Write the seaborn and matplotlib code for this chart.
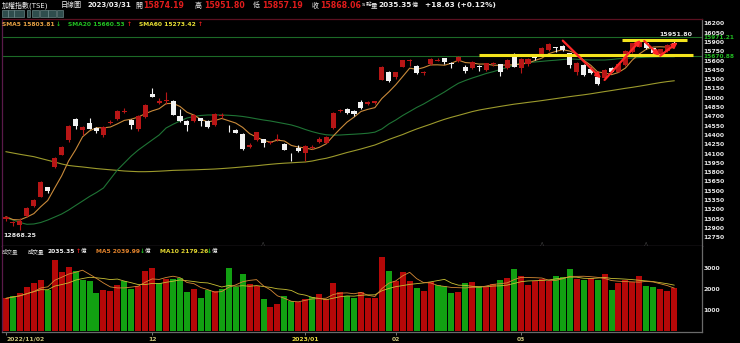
import numpy as np
import pandas as pd
import matplotlib
matplotlib.use("Agg")
import matplotlib.pyplot as plt
import matplotlib.transforms as mtrans
from matplotlib.patches import Rectangle
import seaborn as sns

# ---------------- data ----------------
opens = [13040, 12975, 12948, 13098, 13260, 13405, 13556, 13888, 14082, 14319,
         14652, 14480, 14588, 14517, 14400, 14600, 14652, 14770, 14641, 14496,
         14685, 15060, 14912, 14945, 14953, 14711, 14630, 14620, 14668, 14625,
         14561, 14700, 14550, 14480, 14411, 14201, 14319, 14330, 14270, 14315,
         14254, 14100, 14190, 14110, 14195, 14280, 14275, 14507, 14780, 14824,
         14791, 14931, 14899, 14920, 15290, 15420, 15340, 15500, 15598, 15512,
         15395, 15539, 15600, 15636, 15565, 15592, 15500, 15475, 15515, 15447,
         15548, 15539, 15475, 15661, 15475, 15540, 15650, 15689, 15770, 15815,
         15839, 15716, 15420, 15528, 15458, 15330, 15313, 15475, 15420, 15528,
         15737, 15823, 15877, 15797, 15710, 15753, 15874.19]
highs = [13100, 13020, 13056, 13235, 13370, 13660, 13565, 14040, 14215, 14560,
         14678, 14545, 14668, 14530, 14545, 14641, 14800, 14835, 14655, 14715,
         14895, 15152, 14988, 15088, 14965, 14814, 14640, 14735, 14680, 14637,
         14750, 14759, 14560, 14490, 14425, 14275, 14455, 14340, 14300, 14410,
         14265, 14115, 14237, 14235, 14240, 14360, 14385, 14770, 14818, 14835,
         14800, 14964, 14950, 14955, 15510, 15430, 15420, 15615, 15630, 15525,
         15430, 15635, 15640, 15645, 15571, 15672, 15528, 15585, 15528, 15565,
         15575, 15550, 15620, 15716, 15635, 15640, 15700, 15810, 15880, 15823,
         15850, 15725, 15575, 15540, 15500, 15345, 15460, 15490, 15555, 15770,
         15890, 15940, 15890, 15805, 15755, 15860, 15951.80]
lows = [13020, 12925, 12868.25, 13080, 13245, 13395, 13470, 13875, 14070, 14282,
        14491, 14394, 14490, 14427, 14372, 14577, 14640, 14759, 14501, 14464,
        14675, 15005, 14900, 14899, 14715, 14614, 14469, 14608, 14544, 14510,
        14550, 14668, 14452, 14425, 14160, 14185, 14305, 14201, 14260, 14300,
        14150, 13985, 14130, 13985, 14170, 14270, 14265, 14495, 14765, 14745,
        14705, 14820, 14890, 14900, 15280, 15250, 15297, 15490, 15516, 15380,
        15366, 15525, 15585, 15540, 15475, 15580, 15394, 15465, 15431, 15435,
        15515, 15355, 15465, 15490, 15394, 15515, 15608, 15675, 15760, 15742,
        15760, 15475, 15360, 15355, 15385, 15200, 15300, 15410, 15410, 15515,
        15725, 15810, 15790, 15680, 15665, 15745, 15857.19]
closes = [13082, 12990, 13018, 13218, 13352, 13642, 13492, 14024, 14201, 14549,
          14544, 14533, 14501, 14459, 14533, 14615, 14786, 14780, 14556, 14705,
          14883, 15017, 14955, 14965, 14727, 14630, 14556, 14722, 14620, 14523,
          14738, 14725, 14538, 14437, 14173, 14233, 14443, 14275, 14290, 14340,
          14165, 14085, 14140, 14224, 14210, 14340, 14372, 14759, 14805, 14759,
          14738, 14830, 14935, 14940, 15493, 15265, 15410, 15604, 15612, 15394,
          15410, 15624, 15612, 15581, 15550, 15661, 15431, 15571, 15500, 15555,
          15565, 15420, 15608, 15500, 15624, 15630, 15640, 15797, 15866, 15800,
          15770, 15528, 15560, 15367, 15400, 15225, 15447, 15420, 15544, 15758,
          15877, 15931, 15800, 15720, 15780, 15849.43, 15868.06]
volumes = [1556, 1681, 1795, 2081, 2271, 2429, 1938, 3367, 2795, 3033,
           2857, 2429, 2395, 1824, 1938, 1919, 2190, 2395, 2014, 2157,
           2857, 2986, 2271, 2476, 2460, 2508, 1843, 1986, 1557, 1952,
           1919, 1986, 3015, 2110, 2700, 2252, 2157, 1524, 1157, 1286,
           1667, 1443, 1395, 1510, 1619, 1762, 1524, 2271, 1843, 1675,
           1557, 1843, 1590, 1557, 3540, 2857, 2395, 2795, 2395, 2033,
           1905, 2333, 2190, 2157, 1795, 1843, 2271, 2348, 2157, 2095,
           2238, 2429, 2540, 2938, 2633, 2190, 2395, 2460, 2395, 2619,
           2586, 2952, 2460, 2429, 2508, 2429, 2698, 1952, 2271, 2429,
           2348, 2633, 2150, 2120, 2000, 1919, 2035.35]
ma20_vals = [13066, 13029, 12989, 12960, 12965, 12989, 13029, 13077, 13126, 13190,
             13263, 13335, 13408, 13472, 13545, 13690, 13835, 13948, 14061, 14157,
             14238, 14319, 14399, 14512, 14572, 14625, 14673, 14698, 14714, 14722,
             14722, 14722, 14717, 14710, 14698, 14681, 14660, 14641, 14625, 14604,
             14583, 14561, 14528, 14488, 14453, 14424, 14403, 14396, 14399, 14406,
             14412, 14419, 14428, 14445, 14496, 14577, 14641, 14714, 14778, 14843,
             14899, 14964, 15028, 15093, 15165, 15233, 15278, 15318, 15354, 15391,
             15420, 15455, 15487, 15528, 15555, 15568, 15576, 15587, 15597, 15605,
             15616, 15625, 15620, 15612, 15608, 15608, 15608, 15616, 15628, 15636,
             15641, 15647, 15654, 15657, 15660, 15660, 15660.53]
ma60_vals = [14130, 14109, 14088, 14069, 14050, 14021, 13992, 13964, 13932, 13908,
             13895, 13884, 13871, 13858, 13848, 13838, 13829, 13819, 13813, 13808,
             13808, 13811, 13816, 13822, 13829, 13832, 13835, 13838, 13842, 13846,
             13851, 13858, 13866, 13875, 13885, 13895, 13904, 13916, 13927, 13937,
             13945, 13951, 13958, 13964, 13980, 14004, 14024, 14053, 14085, 14117,
             14145, 14174, 14206, 14238, 14282, 14327, 14367, 14407, 14453, 14496,
             14535, 14573, 14614, 14652, 14685, 14715, 14746, 14777, 14802, 14822,
             14841, 14860, 14878, 14896, 14910, 14925, 14939, 14954, 14970, 14986,
             15002, 15018, 15033, 15047, 15063, 15081, 15099, 15116, 15134, 15152,
             15168, 15186, 15205, 15225, 15244, 15260, 15273.42]
prev_close = 13020
date_ticks = [0, 21, 43, 56, 74]
date_labels = ["2022/11/02", "12", "2023/01", "02", "03"]
price_ticks = list(range(12750, 16201, 150))
vol_ticks = [1000, 2000, 3000]
ref_levels = [15971.21, 15670.88]
yellow_segments = [(68.0, 98.7, 15681), (88.5, 97.9, 15931)]
red_arrows = [((80.0, 15920), (85.5, 15313)),
              ((86.0, 15286), (91.2, 15931)),
              ((91.7, 15915), (93.9, 15677)),
              ((94.0, 15677), (96.5, 15893))]
marker_pos = [37, 77, 92]

# ---------------- styling ----------------
plt.rcParams["font.family"] = ["DejaVu Sans", "Noto Sans CJK TC"]
RED = "#b81616"
WHITE = "#f2f2f2"
VRED = "#b50808"
VGREEN = "#12a012"
W, H = 740, 343

o = np.array(opens); h = np.array(highs); l = np.array(lows); c = np.array(closes)
v = np.array(volumes, dtype=float)
n = len(c)
idx = np.arange(n)
ma5 = pd.Series(c).rolling(5, min_periods=1).mean().values
vma5 = pd.Series(v).rolling(5, min_periods=1).mean().values
vma10 = pd.Series(v).rolling(10, min_periods=1).mean().values
prevs = np.concatenate([[prev_close], c[:-1]])
vol_dir = np.where(c >= prevs, "up", "down")

fig = plt.figure(figsize=(W / 100, H / 100), dpi=100, facecolor="black")
def fx(px): return px / W
def fy(py): return 1 - py / H

ax = fig.add_axes([fx(2), fy(246), fx(700), (246 - 19) / H])
axv = fig.add_axes([fx(2), fy(332), fx(700), (332 - 246) / H])
for a in (ax, axv):
    a.set_facecolor("black")

# reference green lines
for lv in ref_levels:
    ax.axhline(lv, color="#1c6a26", lw=0.8, zorder=1)

# moving averages
sns.lineplot(x=idx, y=ma60_vals, ax=ax, color="#9c9a2c", lw=0.8, zorder=2)
sns.lineplot(x=idx, y=ma20_vals, ax=ax, color="#1f7435", lw=0.8, zorder=2)
sns.lineplot(x=idx, y=ma5, ax=ax, color="#c98a3a", lw=0.8, zorder=2)

# candles
up = c >= o
cols = np.where(up, RED, WHITE)
ax.vlines(idx, l, h, colors=cols, linewidth=0.8, zorder=3)
body_bottom = np.minimum(o, c)
body_h = np.maximum(np.abs(c - o), 14)
ax.bar(idx, body_h, bottom=body_bottom, width=0.72, color=cols, linewidth=0, zorder=4)

# yellow support/resistance lines and red arrows
for x0, x1, yv in yellow_segments:
    ax.hlines(yv, x0, x1, color="#f3e31c", lw=2.2, zorder=5)
for (x0, y0), (x1, y1) in red_arrows:
    ax.annotate("", xy=(x1, y1), xytext=(x0, y0),
                arrowprops=dict(arrowstyle="-|>", color="#ff2626", lw=1.6,
                                mutation_scale=7, shrinkA=0, shrinkB=0), zorder=6)

# min / max labels
imin = int(np.argmin(l)); imax = int(np.argmax(h))
ax.annotate(f"{l[imin]:.2f}", xy=(imin, l[imin]), xytext=(0, -2.5), textcoords="offset points",
            ha="center", va="top", fontsize=4.5, color="#e8e8e8", fontweight="bold")
ax.annotate(f"{h[imax]:.2f}", xy=(imax, h[imax]), xytext=(1.5, 1), textcoords="offset points",
            ha="center", va="bottom", fontsize=4.5, color="#e8e8e8", fontweight="bold")

ax.set_xlim(-0.575, 100)
ax.set_ylim(12610, 16269)
ax.yaxis.tick_right()
ax.set_yticks(price_ticks)
ax.set_yticklabels([str(t) for t in price_ticks])
ax.tick_params(axis="y", length=0, pad=1.2, labelsize=4.4, labelcolor="#e6e6e6")
for lab in ax.get_yticklabels():
    lab.set_fontweight("bold")
ax.set_xticks([])
ax.set_xlabel(""); ax.set_ylabel("")
trans = mtrans.blended_transform_factory(ax.transAxes, ax.transData)
for lv in ref_levels:
    ax.text(1.002, lv, f"{lv:.2f}", transform=trans, color="#22b822", fontsize=4.2,
            va="center", ha="left", fontweight="bold")
for xm in marker_pos:
    ax.text(xm, 12640, "△", color="#8a8a8a", fontsize=4, ha="center", va="center")

ax.spines["top"].set_color("#5a1020")
ax.spines["left"].set_color("#5a1a4a")
ax.spines["right"].set_color("#6a6a6a")
ax.spines["bottom"].set_color("#6a5a6a")
for s in ax.spines.values():
    s.set_linewidth(0.9)

# volume panel
vdf = pd.DataFrame({"idx": idx, "vol": v, "dir": vol_dir})
sns.barplot(data=vdf, x="idx", y="vol", hue="dir", palette={"up": VRED, "down": VGREEN},
            native_scale=True, dodge=False, width=0.86, legend=False, saturation=1,
            errorbar=None, linewidth=0, ax=axv)
sns.lineplot(x=idx, y=vma10, ax=axv, color="#c8c034", lw=0.6, zorder=5)
sns.lineplot(x=idx, y=vma5, ax=axv, color="#d68a36", lw=0.6, zorder=5)
axv.set_xlim(-0.575, 100)
axv.set_ylim(-48, 4050)
axv.yaxis.tick_right()
axv.set_yticks(vol_ticks)
axv.set_yticklabels([str(t) for t in vol_ticks])
axv.tick_params(axis="y", length=0, pad=1.2, labelsize=4.4, labelcolor="#e6e6e6")
for lab in axv.get_yticklabels():
    lab.set_fontweight("bold")
axv.set_xticks(date_ticks)
axv.set_xticklabels(date_labels)
axv.tick_params(axis="x", length=2.5, width=0.6, color="#8a8a8a", pad=1,
                labelsize=4.4, labelcolor="#c9c27a")
xl = axv.get_xticklabels()
xl[0].set_ha("left")
for lab in xl:
    lab.set_fontweight("bold")
xl[2].set_color("#e6d640")
axv.set_xlabel(""); axv.set_ylabel("")
axv.spines["top"].set_visible(False)
axv.spines["left"].set_color("#5a1a4a")
axv.spines["right"].set_color("#6a6a6a")
axv.spines["bottom"].set_color("#6a6a6a")
for s in axv.spines.values():
    s.set_linewidth(0.9)

# ---------------- header texts ----------------
def t(px, py, s, color="#f0f0f0", size=5.6, bold=True):
    fig.text(fx(px), fy(py), s, color=color, fontsize=size, va="center", ha="left",
             fontweight="bold" if bold else "normal")

HRED = "#e01c1c"
t(2, 5, "加權指數(TSE)", size=5.0, bold=False)
t(61, 5, "日線圖", size=5.0, bold=False)
t(87, 5, "2023/03/31", size=5.0)
t(135, 5, "開", size=5.0, bold=False)
t(143, 5, "15874.19", HRED, 5.6)
t(195, 5, "高", size=5.0, bold=False)
t(204, 5, "15951.80", HRED, 5.6)
t(253, 5, "低", size=5.0, bold=False)
t(262, 5, "15857.19", HRED, 5.6)
t(312, 5, "收", size=5.0, bold=False)
t(320, 5, "15868.06", HRED, 5.6)
t(362, 5, "s", size=4.6, bold=False)
t(365.5, 5, "點", size=4.0, bold=False)
t(371, 5, "量", size=4.6, bold=False)
t(378, 5, "2035.35", size=5.3)
t(412, 5, "億", size=4.4, bold=False)
t(425, 5, "+18.63 (+0.12%)", size=5.3)

# small toolbar buttons
for x0, x1 in [(2, 7.5), (8.2, 13.5), (14.2, 24), (26.5, 29.5), (31.5, 39.3),
               (40, 47.7), (48.4, 56), (56.7, 63.3)]:
    fig.patches.append(Rectangle((fx(x0), fy(16.5)), fx(x1 - x0), (6.5) / H,
                                 transform=fig.transFigure, facecolor="#2f4d4d",
                                 edgecolor="#7a9a9a", linewidth=0.4))

t(2, 24, "SMA5 15803.81", "#e8a244", 4.3)
t(56, 24, "↓", "#22c022", 4.3)
t(68, 24, "SMA20 15660.53", "#22c022", 4.3)
t(127, 24, "↑", HRED, 4.3)
t(139, 24, "SMA60 15273.42", "#e8e034", 4.3)
t(198, 24, "↑", HRED, 4.3)

t(2, 251.5, "成交量", "#c8c8c8", 4.0, False)
t(28, 251.5, "成交量", "#f0f0f0", 4.0, False)
t(47, 251.5, "2035.35", "#f0f0f0", 4.3)
t(76, 251.5, "↑", HRED, 4.3)
t(80.5, 251.5, "億", "#f0f0f0", 4.0, False)
t(96, 251.5, "MA5 2039.99", "#e0822c", 4.3)
t(140, 251.5, "↓", "#22c022", 4.3)
t(145, 251.5, "億", "#f0f0f0", 4.0, False)
t(160, 251.5, "MA10 2179.26", "#e2d630", 4.3)
t(207, 251.5, "↓", "#22c022", 4.3)
t(212, 251.5, "億", "#f0f0f0", 4.0, False)

fig.savefig("out.png", dpi=100, facecolor="black")
